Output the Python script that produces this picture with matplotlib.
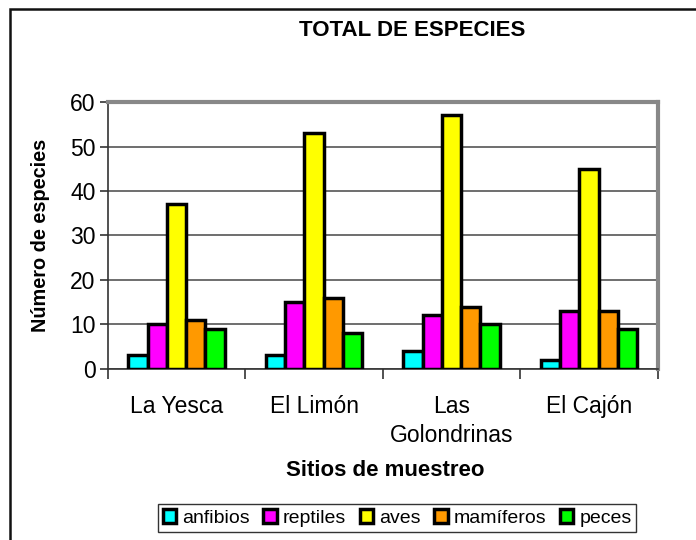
import matplotlib.pyplot as plt
import numpy as np
from matplotlib.patches import Rectangle

plt.rcParams['font.family'] = ['Liberation Sans', 'DejaVu Sans']

sitios = ['La Yesca', 'El Limón', 'Las\nGolondrinas', 'El Cajón']
grupos = ['anfibios', 'reptiles', 'aves', 'mamíferos', 'peces']
anfibios = [3, 3, 4, 2]
reptiles = [10, 15, 12, 13]
aves = [37, 53, 57, 45]
mamiferos = [11, 16, 14, 13]
peces = [9, 8, 10, 9]
colores = ['#00ffff', '#ff00ff', '#ffff00', '#ff9900', '#00ff00']

fig = plt.figure(figsize=(6.96, 5.4), dpi=100)
# marco de la figura (solo visibles arriba e izquierda)
fig.patches.append(Rectangle((10/696, -0.1), 1.2, 1.1 - 9/540, transform=fig.transFigure,
                             fill=False, edgecolor='#111111', linewidth=1.8))
ax = fig.add_axes([0.155, 0.317, 0.79, 0.494])

x = np.arange(len(sitios))
w = 0.14
for i, (vals, c) in enumerate(zip([anfibios, reptiles, aves, mamiferos, peces], colores)):
    ax.bar(x + (i - 2) * w, vals, w, color=c, edgecolor='black', linewidth=2.5,
           label=grupos[i], zorder=3)

ax.set_xlim(-0.5, 3.5)
ax.set_ylim(0, 60)
ax.set_yticks(range(0, 61, 10))
ax.yaxis.grid(True, color='#555555', linewidth=1.2, zorder=0)
ax.set_xticks(np.arange(-0.5, 4, 1))
ax.set_xticklabels([])
ax.set_xticks(x, minor=True)
ax.set_xticklabels(sitios, minor=True, fontsize=16.5, linespacing=1.3)
ax.tick_params(axis='x', which='minor', length=0, pad=19)
ax.tick_params(axis='x', which='major', length=7, width=1.2, color='#333333')
ax.tick_params(axis='y', length=6, width=1.2, labelsize=16.5, color='#333333', pad=3)
for s in ['top', 'right']:
    ax.spines[s].set_color('#888888')
    ax.spines[s].set_linewidth(3)
for s in ['left', 'bottom']:
    ax.spines[s].set_color('#333333')
    ax.spines[s].set_linewidth(1.2)

ax.set_ylabel('Número de especies', fontsize=14.3, fontweight='bold', labelpad=14)
fig.text(385/696, 1 - 471/540, 'Sitios de muestreo', fontsize=16, fontweight='bold',
         ha='center', va='center')
fig.text(412/696, 1 - 31/540, 'TOTAL DE ESPECIES', fontsize=16, fontweight='bold',
         ha='center', va='center')

leg = fig.legend(loc='center', bbox_to_anchor=(397/696, 1 - 518/540), ncol=5,
                 fontsize=14, frameon=True, fancybox=False, handlelength=0.7,
                 handleheight=0.7, handletextpad=0.3, columnspacing=0.7,
                 borderpad=0.25, edgecolor='black')
leg.get_frame().set_linewidth(1)

fig.savefig('out.png', dpi=100)
